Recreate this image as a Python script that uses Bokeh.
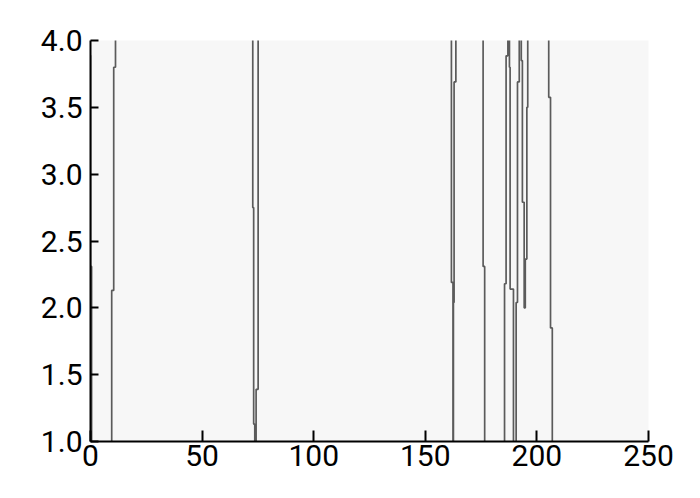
from bokeh.plotting import figure
from bokeh.models import Range1d, FixedTicker, PrintfTickFormatter
from bokeh.embed import file_html
from bokeh.resources import INLINE

# Series (values of 0.0 / 5.0 are off-scale readings)
t = [
    0.0, 0.0, 0.5, 0.5,
    9.5, 9.5, 10.4, 10.4, 11.2, 11.2,
    72.7, 72.7, 73.1, 73.1, 73.6, 73.6,
    74.2, 74.2, 75.1, 75.1,
    161.7, 161.7, 162.4, 162.4,
    162.6, 162.6, 162.9, 162.9, 163.7, 163.7,
    175.9, 175.9, 176.6, 176.6,
    185.5, 185.5, 186.2, 186.2, 187.0, 187.0,
    187.7, 187.7, 188.0, 188.0, 189.5, 189.5,
    190.7, 190.7, 191.3, 191.3, 192.1, 192.1,
    193.0, 193.0, 193.5, 193.5, 194.3, 194.3, 194.8, 194.8, 195.5, 195.5, 195.9, 195.9,
    205.3, 205.3, 206.1, 206.1, 206.9, 206.9,
]
v = [
    3.89, 2.31, 2.31, 0.0,
    0.0, 2.13, 2.13, 3.80, 3.80, 5.0,
    5.0, 2.75, 2.75, 1.13, 1.13, 0.0,
    0.0, 1.39, 1.39, 5.0,
    5.0, 2.19, 2.19, 0.0,
    0.0, 2.04, 2.04, 3.69, 3.69, 5.0,
    5.0, 2.31, 2.31, 0.0,
    0.0, 2.18, 2.18, 3.885, 3.885, 5.0,
    5.0, 3.80, 3.80, 2.14, 2.14, 0.0,
    0.0, 2.04, 2.04, 3.69, 3.69, 5.0,
    5.0, 3.85, 3.85, 2.79, 2.79, 2.0, 2.0, 2.365, 2.365, 3.50, 3.50, 5.0,
    5.0, 3.575, 3.575, 1.85, 1.85, 0.0,
]
x_ticks = [0, 50, 100, 150, 200, 250]
y_ticks = [1.0, 1.5, 2.0, 2.5, 3.0, 3.5, 4.0]

p = figure(width=684, height=482, x_range=Range1d(0, 250), y_range=Range1d(1, 4),
           output_backend="svg", toolbar_location=None,
           min_border_left=90, min_border_right=36, min_border_top=40, min_border_bottom=41)
p.grid.visible = False
p.outline_line_color = None
p.background_fill_color = "#f7f7f7"
p.border_fill_color = "white"

p.line(t, v, line_color="#404040", line_width=1.7, line_alpha=0.85)

for ax in (p.xaxis[0], p.yaxis[0]):
    ax.axis_line_width = 2
    ax.axis_line_color = "black"
    ax.major_tick_line_width = 2
    ax.major_tick_line_color = "black"
    ax.minor_tick_line_color = None
    ax.major_tick_out = 0
    ax.major_label_text_font = "Roboto"
    ax.major_label_text_font_size = "30px"
    ax.major_label_text_color = "black"

p.xaxis.ticker = FixedTicker(ticks=x_ticks)
p.xaxis.major_tick_in = 11
p.xaxis.major_label_standoff = 3
p.yaxis.ticker = FixedTicker(ticks=y_ticks)
p.yaxis.major_tick_in = 8
p.yaxis.major_label_standoff = 8
p.yaxis.formatter = PrintfTickFormatter(format="%.1f")

open("out.html", "w").write(file_html(p, INLINE))
